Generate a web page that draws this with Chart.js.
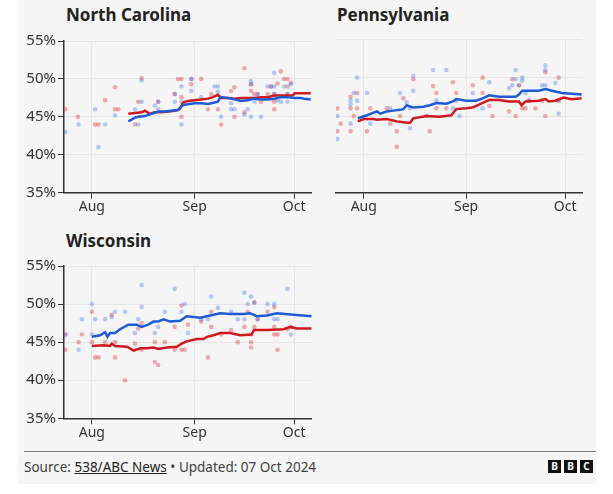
<!DOCTYPE html>
<html>
<head>
<meta charset="utf-8">
<script src="https://cdn.jsdelivr.net/npm/chart.js@4.4.0/dist/chart.umd.min.js"></script>
<style>
  body { margin: 0; background: #fff; font-family: "Noto Sans", sans-serif; }
  #panel { position: absolute; left: 18px; top: 0; width: 578px; height: 484px; background: #f5f5f5; }
  .title { position: absolute; font-weight: bold; font-size: 17px; color: #222; line-height: 20px; }
  canvas { position: absolute; }
  #rule { position: absolute; left: 24px; top: 451px; width: 572px; height: 1px; background: #7a7a7a; }
  #source { position: absolute; left: 24px; top: 458px; font-size: 13.5px; color: #404040; line-height: 18px; }
  #source u { color: #222; }
  .logo { position: absolute; top: 460px; width: 13px; height: 13px; background: #111; color: #fff;
          font: bold 10px "Noto Sans", sans-serif; text-align: center; line-height: 13px; }
</style>
</head>
<body>
<div id="panel"></div>
<div class="title" style="left:66px;top:5px">North Carolina</div>
<div class="title" style="left:337px;top:5px">Pennsylvania</div>
<div class="title" style="left:66px;top:231px">Wisconsin</div>
<canvas id="nc" width="320" height="190" style="left:0;top:30px"></canvas>
<canvas id="pa" width="260" height="190" style="left:330px;top:30px"></canvas>
<canvas id="wi" width="320" height="190" style="left:0;top:255px"></canvas>
<div id="rule"></div>
<div id="source">Source: <u>538/ABC News</u> • Updated: 07 Oct 2024</div>
<div class="logo" style="left:548px">B</div>
<div class="logo" style="left:564px">B</div>
<div class="logo" style="left:580px">C</div>

<script>
// days counted from 1 Aug 2024
const monthTicks = [0, 31, 61]
const monthLabels = ['Aug', 'Sep', 'Oct']
const yTicks = [35, 40, 45, 50, 55]

// North Carolina
const ncDemTrend = [[11,44.4],[13,44.9],[14,45.0],[16,45.1],[18,45.4],[20,45.7],[22,45.7],[24,45.8],[26,45.9],[27,46.4],[28,46.6],[31,46.8],[33,46.8],[35,46.7],[37,46.9],[38,47.0],[38.8,47.6],[41,47.5],[43,47.3],[45,47.1],[47,47.2],[49,47.4],[51,47.3],[53,47.3],[55,47.4],[57,47.6],[59,47.6],[61,47.5],[63,47.5],[64,47.4],[66,47.3]]
const ncRepTrend = [[11,45.4],[13,45.5],[15,45.6],[16,45.8],[17.5,45.4],[19,45.6],[21,45.6],[23,45.7],[25,45.8],[26.5,46.0],[27.5,46.9],[29,47.1],[31,47.2],[33,47.3],[35,47.4],[36.5,47.6],[38,47.9],[39,47.5],[41,47.5],[43,47.4],[45,47.5],[47,47.5],[49,47.5],[51,47.6],[53,47.6],[55,47.8],[57,47.8],[59,47.8],[60.5,47.8],[61.2,48.1],[63,48.1],[66,48.1]]
const ncDemPolls = [[-8,43],[-4,44],[1,46],[2,41],[4,44],[7,45.2],[13,46],[14,44],[15,47],[15,49.8],[19,46.5],[20,46],[20,47],[25,47],[25,48],[27,49],[27,47],[27,44],[30,48.4],[30,50],[33,47.6],[37,49],[38,49],[38,48.3],[39,45],[42,46.8],[42,46],[43,46],[46,45.3],[47,46],[48,49.7],[48,49.3],[48,45],[49,47],[50,48],[51,45],[53,49],[54,49],[55,49],[55,50.8],[55,48],[56,47.2],[57,47],[58,49],[59,47],[59,48],[60,49.3]]
const ncRepPolls = [[-8,46],[-4.2,45],[1,44],[2,44],[4,47.2],[7,48.9],[7,46],[8,46],[13,44],[14,47],[15,50.1],[20,47],[25,48],[26,50],[27,50],[27,47.6],[27,45],[30,50],[30,49.3],[33,50],[36,48],[35,46],[38,46],[39,44],[42,48.4],[43,48.9],[43,45],[46,51.4],[46,45.6],[48,48.4],[48,49.3],[49,48],[50,48],[51,47],[53,48],[54,49],[55,46],[55,47],[55,48],[56,49.4],[57,51],[58,50],[59,50],[59,49],[59,48],[60,49.5]]

// Pennsylvania
const paDemTrend = [[-1.8,44.7],[1,45.1],[4,45.6],[5,45.3],[7,45.6],[9,45.7],[11,45.8],[12,45.9],[13,46.4],[15,46.1],[18,46.2],[20,46.4],[22,46.7],[25,46.6],[27,46.9],[28,47.2],[31,47.0],[34,47.0],[36,47.3],[38,47.7],[41,47.5],[44,47.5],[46,47.5],[47,47.8],[48,48.3],[51,48.3],[53,48.3],[55,48.5],[57,48.3],[60,48.0],[63,47.9],[66,47.8]]
const paRepTrend = [[-1.8,44.3],[0,44.6],[3,44.6],[4,44.5],[7,44.6],[10,44.3],[12,44.2],[14,44.1],[15,44.7],[19,45.0],[23,44.9],[26.5,45.1],[28,45.9],[31,46.0],[33,46.1],[36,46.7],[38,47.1],[41,47.1],[44,46.9],[47,46.9],[47.8,46.4],[49,46.9],[53,47.0],[55,47.2],[56,46.9],[58,47.0],[60.5,47.4],[63,47.2],[66,47.3]]
const paDemPolls = [[-8,45],[-8,42],[-4,44],[-4,47],[-4,46.5],[-3,48],[-2,50],[-2,47],[1,48],[2,44],[8,46],[11,48],[13,46.8],[14,46],[14,43.4],[15,50.2],[15,48.3],[21,51],[22,47],[25,51],[27,46],[29,45],[33,48],[36,46],[38,49.4],[44,48.6],[45,49],[46,51],[46,49.8],[47,49],[48,50],[48,49.6],[49,48],[50,47],[54,49],[55,51.6],[55,51],[55,49],[58,49.3],[59,47],[59,45.3]]
const paRepPolls = [[-8,46],[-8,43],[-7,44],[-4,43],[-4,46],[-4,47.5],[-3,45],[-2,48],[-2,46],[1,43],[2,46],[7,46],[8,44],[10,43],[10,41],[11,45],[12,47.3],[15,49.8],[19,45],[20,43],[21,48.9],[22,48],[22,46],[25,46],[27,49.4],[28,48],[28,47],[33,49],[36,48],[36,50],[38,46.3],[39,45],[44,45.6],[45,49.8],[46,45],[47,49],[48,46],[49,46],[50,47],[52,46],[54,47],[55,45],[55,50.7],[59,47],[59,50]]

// Wisconsin
const wiDemTrend = [[0,45.7],[2.5,45.9],[4,46.3],[4.7,45.7],[5.5,46.2],[7,46.2],[8.5,46.7],[11,47.3],[13.6,47.3],[15,47.0],[17,47.3],[18.6,47.7],[20,47.7],[21.6,48.0],[23.6,47.7],[26.6,47.8],[28.6,48.4],[32.7,48.2],[35.7,48.5],[38.7,48.8],[41.7,48.7],[45.7,48.7],[47.7,48.8],[49.7,48.4],[52.8,48.5],[55.8,48.8],[58.3,48.7],[60.8,48.6],[66.3,48.4]]
const wiRepTrend = [[0,44.5],[3.5,44.6],[5.5,44.5],[6,44.8],[7,44.5],[10.6,44.4],[12.6,43.9],[14.6,44.2],[16.6,44.2],[18.6,44.3],[20.1,44.1],[22.6,44.3],[25.6,44.4],[27.1,44.8],[28.6,45.1],[31.7,45.4],[33.7,45.4],[34.7,45.7],[36.7,45.9],[38.7,46.2],[41.7,46.2],[44.7,45.9],[48.2,46.0],[48.9,46.6],[52.8,46.6],[57.8,46.7],[59.8,47.0],[61.8,46.8],[66.3,46.8]]
const wiDemPolls = [[-8,46],[-4,44],[-3,48],[0,50],[0,46],[1,48],[4,48],[6,48.3],[7,49],[10,49],[13,46.2],[14,48],[15,49.6],[15,52.5],[19,46.2],[20,47],[22,49],[25,52],[27,49],[28,50],[29,46.2],[33,48],[35,48],[36,51],[38,49.5],[42,49],[44,48],[46,51.5],[46,48],[47,50],[48,51],[49,50.2],[50,48],[53,50],[55,50],[55,48],[56,48],[59,52],[60,46]]
const wiRepPolls = [[-8,46],[-8,44],[-4,45],[-3,46],[0,49],[0,45],[1,43],[2,43],[4,45],[6,48.6],[7,45],[7,43],[10,40],[13,44.8],[14,46.8],[15,47.5],[15,44],[19,45],[19,42.4],[20,42],[22,45],[25,44],[25,47],[27,49.8],[27,44],[28,44],[29,47.3],[33,47.7],[35,43],[36,49],[36,47],[39,46],[42,46.6],[44,45],[46,47],[47,49],[48,46],[48,45],[48,44.3],[49,50.2],[49,47],[50,48],[53,49],[55,49.6],[55,47],[55,46],[56,46],[56,44],[59,46.7],[60,47]]

const demLine = '#1f5bd3'
const repLine = '#d01820'
const demDot = 'rgba(60,110,225,0.35)'
const repDot = 'rgba(215,45,55,0.38)'

toXY = (pairs) => pairs.map(p => ({x: p[0], y: p[1]}))

makeChart = (id, demTrend, repTrend, demPolls, repPolls, cfg) => {
    const ctx = document.getElementById(id)
    return new Chart(ctx, {
        type: 'scatter',
        data: {
            datasets: [
                { data: toXY(demTrend), showLine: true, borderColor: demLine, borderWidth: 2.5, pointRadius: 0, order: 0 },
                { data: toXY(repTrend), showLine: true, borderColor: repLine, borderWidth: 2.5, pointRadius: 0, order: 0 },
                { data: toXY(demPolls), backgroundColor: demDot, borderWidth: 0, pointRadius: 2.3, order: 1 },
                { data: toXY(repPolls), backgroundColor: repDot, borderWidth: 0, pointRadius: 2.3, order: 1 }
            ]
        },
        options: {
            responsive: false,
            animation: false,
            layout: { padding: { top: cfg.padTop, right: cfg.padRight, left: 0, bottom: 0 } },
            plugins: { legend: { display: false }, tooltip: { enabled: false } },
            scales: {
                x: {
                    type: 'linear',
                    min: -8.4,
                    max: 66.3,
                    afterBuildTicks: (scale) => { scale.ticks = monthTicks.map(v => ({ value: v })) },
                    afterFit: (scale) => { scale.height = cfg.xHeight },
                    ticks: {
                        callback: (v) => monthLabels[monthTicks.indexOf(v)],
                        color: '#333',
                        font: { family: 'Noto Sans', size: 14 },
                        padding: 0,
                        maxRotation: 0
                    },
                    grid: { color: '#e6e6e6', tickColor: '#333', tickLength: 6 },
                    border: { color: '#333', width: 1.5 }
                },
                y: {
                    min: 35,
                    max: 55,
                    afterBuildTicks: (scale) => { scale.ticks = yTicks.map(v => ({ value: v })) },
                    afterFit: (scale) => { scale.width = cfg.yWidth },
                    ticks: {
                        display: cfg.showY,
                        callback: (v) => v + '%',
                        color: '#333',
                        font: { family: 'Noto Sans', size: 15 },
                        padding: 2
                    },
                    grid: { color: '#e6e6e6', tickColor: '#333', tickLength: 6, drawTicks: cfg.showY },
                    border: { display: cfg.showY, color: '#333', width: 1.5 }
                }
            }
        }
    })
}

makeChart('nc', ncDemTrend, ncRepTrend, ncDemPolls, ncRepPolls,
    { padTop: 9.3, padRight: 8.3, xHeight: 27.3, yWidth: 64, showY: true })
makeChart('pa', paDemTrend, paRepTrend, paDemPolls, paRepPolls,
    { padTop: 9.3, padRight: 7.3, xHeight: 27.3, yWidth: 6, showY: false })
makeChart('wi', wiDemTrend, wiRepTrend, wiDemPolls, wiRepPolls,
    { padTop: 10, padRight: 8.3, xHeight: 26.7, yWidth: 64, showY: true })
</script>
</body>
</html>
